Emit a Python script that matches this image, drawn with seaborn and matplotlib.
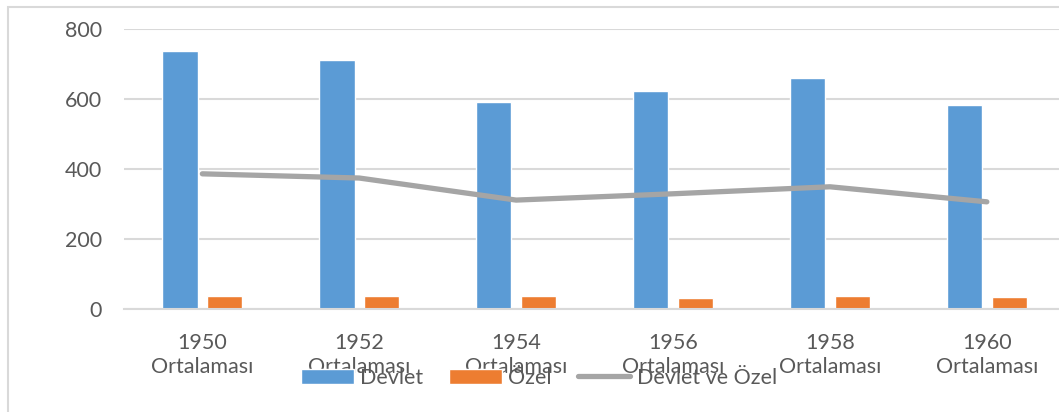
import pandas as pd
import seaborn as sns
import matplotlib.pyplot as plt
from matplotlib.patches import Rectangle

# Data
years = ['1950', '1952', '1954', '1956', '1958', '1960']
devlet = [737, 711, 591, 623, 660, 583]
ozel = [36, 36, 36, 31, 36, 33]
devlet_ve_ozel = [386, 374, 311, 329, 349, 306]

labels = [y + '\nOrtalaması' for y in years]

df_bars = pd.DataFrame({
    'kategori': labels * 2,
    'deger': devlet + ozel,
    'seri': ['Devlet'] * len(labels) + ['Özel'] * len(labels),
})
df_line = pd.DataFrame({'kategori': labels, 'deger': devlet_ve_ozel})

sns.set_style('white')
plt.rcParams['font.family'] = ['Lato', 'DejaVu Sans']
text_color = '#595959'

fig = plt.figure(figsize=(10.59, 4.12), dpi=100)
ax = fig.add_axes([0.117, 0.25, 0.883, 0.68])

# Bars
sns.barplot(
    data=df_bars, x='kategori', y='deger', hue='seri',
    palette=['#5B9BD5', '#ED7D31'], saturation=1, width=0.57, gap=0.21,
    errorbar=None, ax=ax, zorder=2, legend=True,
)

# Line for Devlet ve Özel
sns.pointplot(
    data=df_line, x='kategori', y='deger', color='#A5A5A5',
    markers='', errorbar=None, ax=ax, linewidth=3.8,
    solid_capstyle='round', label='Devlet ve Özel', zorder=3,
)

# Formatting
ax.set_ylim(0, 800)
ax.set_xlim(-0.5, 5.46)
ax.set_yticks([0, 200, 400, 600, 800])
ax.yaxis.grid(True, color='#D9D9D9', linewidth=1.5, zorder=0)
ax.set_axisbelow(True)
ax.set_xlabel('')
ax.set_ylabel('')
for side in ['top', 'right', 'left']:
    ax.spines[side].set_visible(False)
ax.spines['bottom'].set_color('#D9D9D9')
ax.spines['bottom'].set_linewidth(1.5)
ax.tick_params(axis='y', length=0, pad=16, labelsize=15.5, labelcolor=text_color)
ax.tick_params(axis='x', length=0, pad=17, labelsize=15.5, labelcolor=text_color)
for t in ax.get_xticklabels():
    t.set_linespacing(1.3)

# Legend sits over the tick labels, like the original
handles, leg_labels = ax.get_legend_handles_labels()
ax.get_legend().remove()
fig.legend(
    handles, leg_labels, loc='center', bbox_to_anchor=(0.509, 0.083),
    ncol=3, frameon=False, fontsize=15.5, labelcolor=text_color,
    handlelength=2.45, handleheight=0.7, handletextpad=0.3, columnspacing=1.2,
)

# Outer chart border
fig.patches.append(Rectangle((0.0075, -0.1), 1.2, 1.083, transform=fig.transFigure,
                             fill=False, edgecolor='#D9D9D9', linewidth=1.5))

fig.savefig('out.png', dpi=100)
